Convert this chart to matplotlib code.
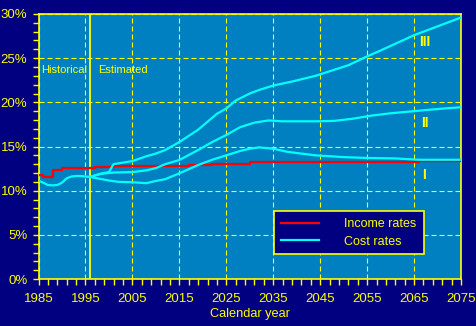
import matplotlib
matplotlib.use("Agg")
import matplotlib.pyplot as plt
from matplotlib.ticker import MultipleLocator, FuncFormatter

# Income rate (percent of taxable payroll), step changes by year
inc_years = [1985, 1986, 1988, 1990, 1991, 1997, 2001, 2017, 2022, 2030, 2066, 2075]
inc_rates = [11.8, 11.6, 12.3, 12.55, 12.6, 12.7, 12.8, 12.9, 13.0, 13.2, 13.35, 13.35]

# Historical cost rate
hist_years = [1985, 1986, 1987, 1988, 1989, 1990, 1991, 1992, 1993, 1994, 1995, 1996]
hist_cost = [11.13, 10.9, 10.64, 10.6, 10.64, 10.9, 11.4, 11.6, 11.66, 11.66, 11.6, 11.55]

# Estimated cost rates, alternatives I (low), II (intermediate), III (high)
alt1_years = [1996, 1998, 2000, 2002, 2005, 2008, 2010, 2012, 2015, 2019, 2022, 2025,
              2028, 2030, 2032, 2035, 2038, 2041, 2044, 2047, 2050, 2055, 2061, 2066, 2075]
alt1_cost = [11.55, 11.35, 11.15, 11.0, 10.95, 10.85, 11.1, 11.3, 11.96, 12.9, 13.5, 14.0,
             14.5, 14.75, 14.9, 14.75, 14.4, 14.2, 14.0, 13.9, 13.8, 13.7, 13.65, 13.5, 13.5]

alt2_years = [1996, 1998, 2001, 2005, 2008, 2010, 2012, 2015, 2019, 2022, 2025, 2028,
              2031, 2034, 2037, 2044, 2048, 2052, 2056, 2060, 2065, 2068, 2072, 2075]
alt2_cost = [11.55, 11.9, 12.05, 12.1, 12.3, 12.55, 13.0, 13.47, 14.6, 15.5, 16.3, 17.2,
             17.7, 17.95, 17.85, 17.85, 17.9, 18.15, 18.5, 18.76, 19.0, 19.15, 19.33, 19.44]

alt3_years = [1996, 1999, 2000, 2001, 2005, 2008, 2010, 2012, 2015, 2019, 2023, 2025,
              2027, 2030, 2032, 2035, 2039, 2044, 2051, 2055, 2058, 2065, 2070, 2075]
alt3_cost = [11.55, 12.0, 12.1, 13.0, 13.35, 13.9, 14.2, 14.6, 15.5, 16.9, 18.7, 19.3,
             20.2, 21.0, 21.4, 21.9, 22.35, 23.0, 24.2, 25.2, 25.9, 27.6, 28.6, 29.6]

NAVY = "#000080"
PANEL = "#0080C0"
YELLOW = "#FFFF00"
CYAN = "#00FFFF"
RED = "#FF0000"

plt.rcParams["font.family"] = ["Liberation Sans", "DejaVu Sans"]

fig = plt.figure(figsize=(4.76, 3.26), dpi=100, facecolor=NAVY)
ax = fig.add_axes([38.5 / 476, 1 - 279 / 326, 422.5 / 476, 265 / 326])
ax.set_facecolor(PANEL)

ax.set_xlim(1985, 2075)
ax.set_ylim(0, 30)

ax.xaxis.set_major_locator(MultipleLocator(10, offset=5))
ax.xaxis.set_minor_locator(MultipleLocator(2, offset=1))
ax.yaxis.set_major_locator(MultipleLocator(5))
ax.yaxis.set_minor_locator(MultipleLocator(1))
ax.yaxis.set_major_formatter(FuncFormatter(lambda v, p: f"{v:.0f}%"))

ax.grid(which="major", color=YELLOW, ls=(0, (4.5, 2.7)), lw=0.8)
ax.set_axisbelow(True)
for s in ax.spines.values():
    s.set_color(YELLOW)
    s.set_linewidth(1.2)

ax.tick_params(which="both", direction="out", color=YELLOW, length=4, width=1,
               labelcolor=YELLOW, labelsize=9.5)
ax.tick_params(axis="x", pad=6)
ax.tick_params(axis="y", pad=4)

# boundary between historical and estimated periods
ax.axvline(1996, color=YELLOW, lw=1.3, zorder=2)
ax.text(1995.3, 23.7, "Historical", color=YELLOW, fontsize=8, ha="right", va="center")
ax.text(1997.6, 23.7, "Estimated", color=YELLOW, fontsize=8, ha="left", va="center")

ax.plot(inc_years, inc_rates, color=RED, lw=1.6, drawstyle="steps-post",
        label="Income rates", zorder=3)
ax.plot(hist_years, hist_cost, color=CYAN, lw=1.6, label="Cost rates", zorder=4)
for yrs, vals in [(alt1_years, alt1_cost), (alt2_years, alt2_cost), (alt3_years, alt3_cost)]:
    ax.plot(yrs, vals, color=CYAN, lw=1.6, zorder=4)

for label, yv in [("III", 26.8), ("II", 17.7), ("I", 11.8)]:
    ax.text(2067.2, yv, label, color=YELLOW, fontsize=10, fontweight="bold",
            ha="center", va="center")

ax.set_xlabel("Calendar year", color=YELLOW, fontsize=9.2, labelpad=2)

leg = ax.legend(loc="upper left", bbox_to_anchor=(0.557, 0.2566), fontsize=9,
                frameon=True, fancybox=False, handlelength=3.1, handletextpad=2.0,
                borderpad=0.55, labelspacing=0.45, borderaxespad=0)
leg.get_frame().set_facecolor(NAVY)
leg.get_frame().set_edgecolor(YELLOW)
leg.get_frame().set_linewidth(1.2)
leg.get_frame().set_alpha(1)
for t in leg.get_texts():
    t.set_color(YELLOW)

fig.savefig("out.png", dpi=100, facecolor=fig.get_facecolor())
